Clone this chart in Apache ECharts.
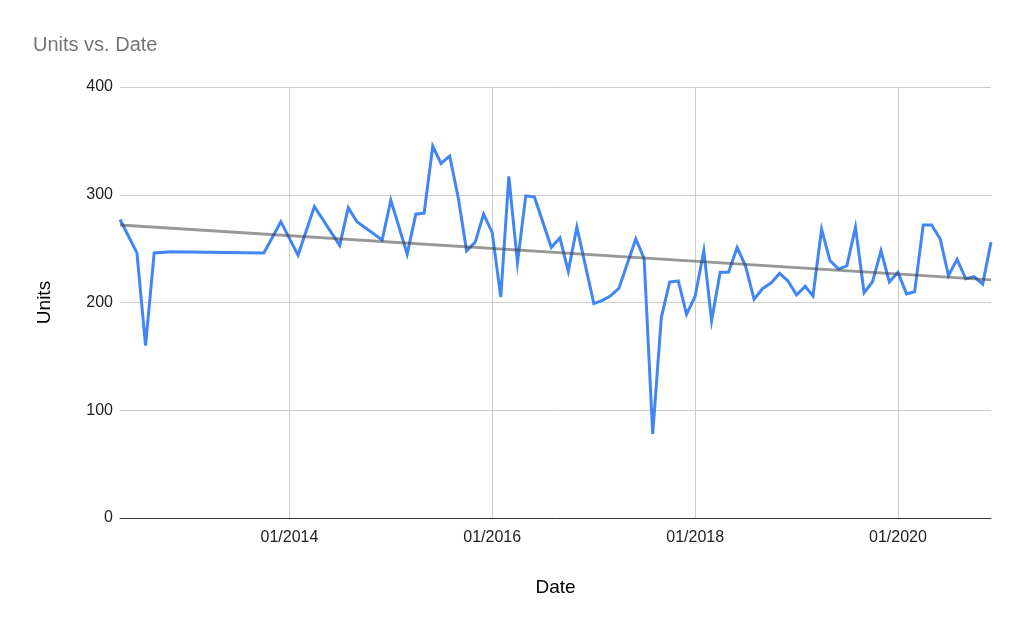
<!DOCTYPE html>
<html>
<head>
<meta charset="utf-8">
<script src="https://cdn.jsdelivr.net/npm/echarts@6/dist/echarts.min.js"></script>
<style>html,body{margin:0;padding:0;background:#fff;}#c{width:1023px;height:632px;}</style>
</head>
<body>
<div id="c"></div>
<script>
var dates = ['2012-05-01','2012-07-01','2012-08-01','2012-09-01','2012-11-01','2013-10-01','2013-12-01',
'2014-02-01','2014-04-01','2014-07-01','2014-08-01','2014-09-01','2014-12-01',
'2015-01-01','2015-03-01','2015-04-01','2015-05-01','2015-06-01','2015-07-01','2015-08-01','2015-09-01','2015-10-01','2015-11-01','2015-12-01',
'2016-01-01','2016-02-01','2016-03-01','2016-04-01','2016-05-01','2016-06-01','2016-08-01','2016-09-01','2016-10-01','2016-11-01',
'2017-01-01','2017-02-01','2017-03-01','2017-04-01','2017-06-01','2017-07-01','2017-08-01','2017-09-01','2017-10-01','2017-11-01','2017-12-01',
'2018-01-01','2018-02-01','2018-03-01','2018-04-01','2018-05-01','2018-06-01','2018-07-01','2018-08-01','2018-09-01','2018-10-01','2018-11-01','2018-12-01',
'2019-01-01','2019-02-01','2019-03-01','2019-04-01','2019-05-01','2019-06-01','2019-07-01','2019-08-01','2019-09-01','2019-10-01','2019-11-01','2019-12-01',
'2020-01-01','2020-02-01','2020-03-01','2020-04-01','2020-05-01','2020-06-01','2020-07-01','2020-08-01','2020-09-01','2020-10-01','2020-11-01','2020-12-01'];
var units = [277,246,160,246,247,246,275,
244,289,253,288,275,258,
295,245,282,283,345,329,336,297,248,256,282,
265,205,317,237,299,298,251,260,229,270,
199,202,206,213,259,241,78,186,219,220,189,
206,248,183,228,228,251,234,203,213,218,227,220,
207,215,206,268,239,231,234,270,209,219,248,219,
228,208,210,272,272,259,225,240,222,224,217,256];
var trendDates = ['2012-05-01','2020-12-01'];
var trendUnits = [272,221];
var xTicks = ['2014-01-01','2016-01-01','2018-01-01','2020-01-01'];
var yTicks = [0,100,200,300,400];

function ts(s){ var p=s.split('-'); return Date.UTC(+p[0],+p[1]-1,+p[2]); }
function pad(n){ return (n<10?'0':'')+n; }
var FONT = 'Liberation Sans, Arial, sans-serif';

var chart = echarts.init(document.getElementById('c'), null, {renderer:'canvas'});
chart.setOption({
  animation:false,
  backgroundColor:'#fff',
  title:{text:'Units vs. Date', left:33, top:35, padding:0, textStyle:{fontFamily:FONT, fontSize:20, fontWeight:'normal', color:'#757575'}},
  grid:{left:120, right:32, top:87, bottom:114, containLabel:false},
  xAxis:{
    type:'value', scale:true,
    min:ts(dates[0]), max:ts(dates[dates.length-1]),
    name:'Date', nameLocation:'middle', nameGap:60,
    nameTextStyle:{fontFamily:FONT, fontSize:19, color:'#000'},
    axisLine:{show:true, onZero:false, lineStyle:{color:'#333', width:1}},
    axisTick:{show:false, customValues:xTicks.map(ts)},
    axisLabel:{customValues:xTicks.map(ts), margin:12, fontFamily:FONT, fontSize:16, color:'#222',
      formatter:function(v){ var d=new Date(v); return pad(d.getUTCMonth()+1)+'/'+d.getUTCFullYear(); }},
    splitLine:{show:true, lineStyle:{color:'#cccccc', width:1}}
  },
  yAxis:{
    type:'value', min:yTicks[0], max:yTicks[yTicks.length-1], interval:100,
    name:'Units', nameLocation:'middle', nameGap:66, nameRotate:90,
    nameTextStyle:{fontFamily:FONT, fontSize:19, color:'#000'},
    axisLine:{show:false}, axisTick:{show:false},
    axisLabel:{margin:7, fontFamily:FONT, fontSize:16, color:'#222'},
    splitLine:{show:true, lineStyle:{color:'#cccccc', width:1}}
  },
  series:[
    {type:'line', name:'Units', data:dates.map(function(d,i){return [ts(d), units[i]];}),
      showSymbol:false, symbol:'none', lineStyle:{color:'#4285F4', width:3, join:'miter'}, z:2},
    {type:'line', name:'Trend', data:trendDates.map(function(d,i){return [ts(d), trendUnits[i]];}),
      showSymbol:false, symbol:'none', lineStyle:{color:'#444444', width:3, opacity:0.55}, z:3}
  ]
});
</script>
</body>
</html>
